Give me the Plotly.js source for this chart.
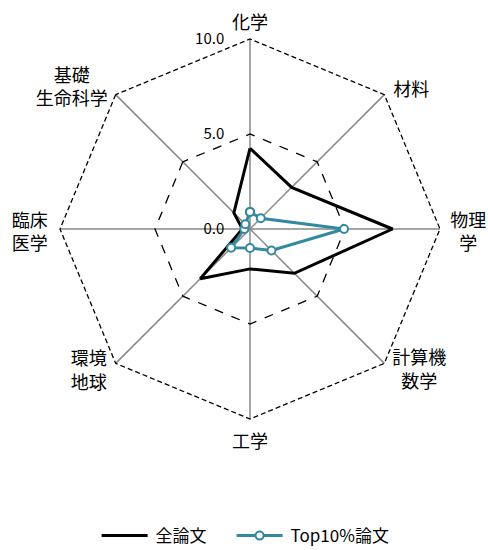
<!DOCTYPE html>
<html>
<head>
<meta charset="utf-8">
<script src="https://cdn.plot.ly/plotly-3.0.1.min.js"></script>
<style>html,body{margin:0;padding:0;background:#fff;}</style>
</head>
<body>
<div id="chart" style="width:488px;height:550px;"></div>
<script>
const categories = ['化学', '材料', '物理<br>\u2002学', '計算機<br>\u2002数学', '工学', '環境<br>地球', '臨床<br>医学', '基礎\u3000<br>生命科学'];
const allPapers = [4.25, 3.1, 7.5, 3.3, 2.1, 3.7, 0.4, 1.2];
const top10Papers = [0.9, 0.8, 4.95, 1.6, 1.0, 1.4, 0.3, 0.35];
const seriesNames = ['全論文', 'Top10%論文'];
const radialTicks = [0, 5, 10];
const radialTickLabels = ['0.0', '5.0', '10.0'];

// label nudges (style only), in category order: [dx, dy] in px
const labelNudges = [[0, -2], [6, 2], [6, 3], [5, -16], [0, 7], [-6, -15], [-8, 3], [-5, 8]];

const closeLoop = arr => arr.concat([arr[0]]);
const font = 'Noto Sans CJK JP, Noto Sans, sans-serif';
const teal = '#3489a1';

const data = [
  {
    type: 'scatterpolar',
    r: closeLoop(allPapers),
    theta: closeLoop(categories),
    mode: 'lines',
    name: seriesNames[0],
    line: {color: '#000000', width: 3}
  },
  {
    type: 'scatterpolar',
    r: closeLoop(top10Papers),
    theta: closeLoop(categories),
    mode: 'lines+markers',
    name: seriesNames[1],
    line: {color: teal, width: 3},
    marker: {symbol: 'circle', size: 8, color: '#ffffff', line: {color: teal, width: 2}}
  }
];

const layout = {
  width: 488,
  height: 550,
  margin: {l: 60, r: 48, t: 39, b: 131, autoexpand: false},
  paper_bgcolor: '#ffffff',
  font: {family: font, size: 15, color: '#000000'},
  showlegend: true,
  legend: {
    orientation: 'h',
    x: 0.47, xanchor: 'center',
    y: -0.308, yanchor: 'middle',
    entrywidth: 90,
    font: {family: font, size: 17, color: '#000000'}
  },
  polar: {
    domain: {x: [0, 1], y: [0, 1]},
    bgcolor: '#ffffff',
    gridshape: 'linear',
    radialaxis: {
      range: [0, 10],
      tickvals: radialTicks,
      ticktext: radialTickLabels,
      angle: 90,
      tickangle: 90,
      side: 'counterclockwise',
      showline: false,
      ticks: 'outside',
      ticklen: 20,
      tickcolor: 'rgba(0,0,0,0)',
      gridcolor: '#000000',
      griddash: 'dash',
      gridwidth: 1.3,
      tickfont: {family: font, size: 15, color: '#000000'}
    },
    angularaxis: {
      rotation: 90,
      direction: 'clockwise',
      showline: true,
      linecolor: '#000000',
      linewidth: 1.3,
      ticks: '',
      gridcolor: '#888888',
      gridwidth: 1.5,
      tickfont: {family: font, size: 18, color: '#000000'}
    }
  }
};

const clean = s => s.replace(/<br>/g, '').replace(/[\s\u2002\u3000]/g, '');

Plotly.newPlot('chart', data, layout, {displayModeBar: false, staticPlot: true}).then(function (gd) {
  gd.querySelectorAll('path.angular-line, .angular-line path, g.angular-line path').forEach(function (p) {
    p.style.strokeDasharray = '5px, 3px';
  });
  const keys = categories.map(clean);
  gd.querySelectorAll('svg text').forEach(function (t) {
    if (t.closest('.legend')) return;
    const idx = keys.indexOf(clean(t.textContent));
    if (idx < 0 || t.dataset.nudged) return;
    t.dataset.nudged = '1';
    const tr = t.getAttribute('transform') || '';
    t.setAttribute('transform', 'translate(' + labelNudges[idx][0] + ',' + labelNudges[idx][1] + ') ' + tr);
  });
  // longer legend line samples
  gd.querySelectorAll('.legend [clip-path]').forEach(function (e) { e.removeAttribute('clip-path'); });
  gd.querySelectorAll('.legend g.traces').forEach(function (g) {
    g.querySelectorAll('.legendlines path').forEach(function (p) { p.setAttribute('d', 'M-2,0h46'); });
    g.querySelectorAll('.legendpoints path').forEach(function (p) { p.setAttribute('transform', 'translate(21,0)'); });
    g.querySelectorAll('text.legendtext').forEach(function (t) { t.setAttribute('x', '52'); });
  });
});
</script>
</body>
</html>
